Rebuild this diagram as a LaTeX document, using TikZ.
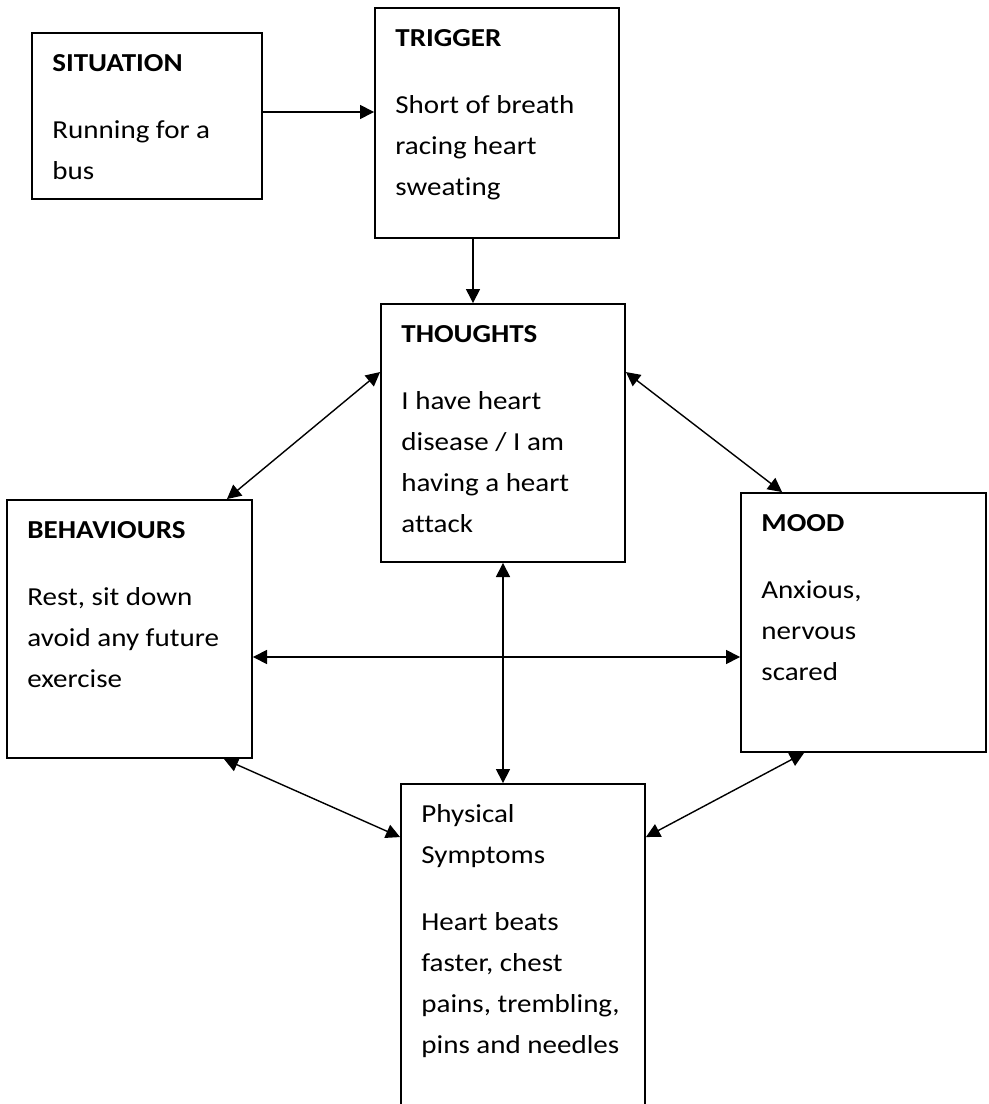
\documentclass[tikz,border=0pt]{standalone}
\usepackage{fontspec}
\setmainfont{Carlito}[FakeStretch=1.12, Ligatures=CommonOff]
\usetikzlibrary{positioning,calc,arrows.meta}

\begin{document}
\begin{tikzpicture}[x=0.02cm, y=-0.02cm,
		box/.style={
			draw, line width=1.1pt, inner sep=0pt,
			minimum width=4.88cm,
			minimum height=5.16cm,
		},
		txt/.style={
			anchor=north west, inner sep=0pt, align=left,
			font=\fontsize{14.75}{23.3}\selectfont,
		},
		arr/.style={thick, -{Triangle[length=8pt,width=8pt]}},
		dbl/.style={thick, {Triangle[length=8pt,width=8pt]}-{Triangle[length=8pt,width=8pt]}}
		]
		\path[use as bounding box, fill=white] (0,0) rectangle (988,1104);
		
		\node[box, minimum width=4.6cm, minimum height=3.32cm] (sit) at (147,116) {};
		\node[box, minimum height=4.6cm] (trig) at (497,123) {};
		\node[box] (thou) at (503,433) {};
		\node[box, minimum width=4.9cm] (beh) at (129.5,629) {};
		\node[box, minimum width=4.9cm, minimum height=5.18cm] (mood) at (863.5,622.5) {};
		\node[box, minimum height=7.2cm] (phys) at (523,964) {};
		
		\node[txt] (sittxt) at ([shift={(0.42cm,-0.44cm)}]sit.north west)
		{\textbf{SITUATION}\\[0.52cm] Running for a\\ bus};
		\node[txt] (trigtxt) at ([shift={(0.42cm,-0.44cm)}]trig.north west)
		{\textbf{TRIGGER}\\[0.52cm] Short of breath\\ racing heart\\ sweating};
		\node[txt] (thoutxt) at ([shift={(0.42cm,-0.44cm)}]thou.north west)
		{\textbf{THOUGHTS}\\[0.52cm] I have heart\\ disease / I am\\ having a heart\\ attack};
		\node[txt] (behtxt) at ([shift={(0.42cm,-0.44cm)}]beh.north west)
		{\textbf{BEHAVIOURS}\\[0.52cm] Rest, sit down\\ avoid any future\\ exercise};
		\node[txt] (moodtxt) at ([shift={(0.42cm,-0.44cm)}]mood.north west)
		{\textbf{MOOD}\\[0.52cm] Anxious,\\ nervous\\ scared};
		\node[txt] (phystxt) at ([shift={(0.42cm,-0.42cm)}]phys.north west)
		{Physical\\ Symptoms\\[0.52cm] Heart beats\\ faster, chest\\ pains, trembling,\\ pins and needles};
		
		% connectors
		\draw[arr] ([yshift=0.08cm]sit.east) -- ([yshift=0.08cm]sit.east -| trig.west);
		\draw[arr] ([xshift=-0.48cm]trig.south) -- ([xshift=-0.48cm]trig.south |- thou.north);
		\draw[dbl] ([yshift=-1.38cm]thou.north west) -- ([xshift=-0.52cm]beh.north east);
		\draw[dbl] ([yshift=-1.38cm]thou.north east) -- ([xshift=0.84cm]mood.north west);
		\draw[dbl] ([yshift=-0.56cm]beh.east) -- ([yshift=-0.56cm]beh.east -| mood.west);
		\draw[dbl] (thou.south) -- (thou.south |- phys.north);
		\draw[dbl] ([xshift=-0.58cm]beh.south east) -- ([yshift=-1.08cm]phys.north west);
		\draw[dbl] ([xshift=1.28cm]mood.south west) -- ([yshift=-1.08cm]phys.north east);
	\end{tikzpicture}
\end{document}
